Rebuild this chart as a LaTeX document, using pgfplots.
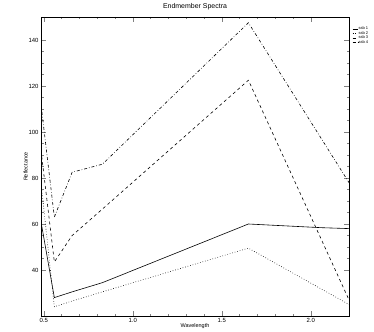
\documentclass[border=0pt]{standalone}
\usepackage{pgfplots}
\pgfplotsset{compat=1.18}
\usepackage{fontspec}
\setmainfont{Liberation Sans}
\begin{document}
\begin{tikzpicture}
\path[use as bounding box] (-41bp,-16bp) rectangle (333bp,316bp);
\begin{axis}[
  scale only axis, width=308bp, height=299bp,
  at={(0,0)}, anchor=south west,
  xmin=0.485, xmax=2.215, ymin=20, ymax=150,
  xtick={0.5,1.0,1.5,2.0}, xticklabels={0.5,1.0,1.5,2.0},
  ytick={40,60,80,100,120,140},
  minor x tick num=4, minor y tick num=3,
  tick align=inside, major tick length=5bp, minor tick length=2.5bp,
  xtick pos=both, ytick pos=both,
  /pgf/number format/assume math mode=true,
  tick label style={font=\fontsize{6}{6.5}\selectfont},
  xticklabel style={yshift=1pt},
  yticklabel style={xshift=1pt},
  axis line style={line width=0.8pt},
  title={Endmember Spectra},
  title style={font=\fontsize{7}{8}\selectfont, at={(0.5,1)}, anchor=south, yshift=-2pt},
  xlabel={Wavelength}, ylabel={Reflectance},
  xlabel style={font=\fontsize{5.5}{6}\selectfont, yshift=6pt},
  ylabel style={font=\fontsize{5.5}{6}\selectfont, yshift=-6pt},
  legend style={at={(1.01,0.97)}, anchor=north west, draw=none, fill=none,
    font=\fontsize{4}{4.5}\selectfont, inner sep=0pt, row sep=-1pt,
    nodes={inner sep=0.6pt}},
  legend cell align=left,
  legend image code/.code={\draw[#1] (0cm,0cm) -- (0.18cm,0cm);},
  every axis plot/.append style={line width=0.6pt, black},
  clip=true,
]
\addplot[solid] coordinates {(0.485,61) (0.56,28) (0.66,30.5) (0.83,34.5) (1.65,60) (2.06,58.4) (2.215,58)};
\addlegendentry{ssb 1}
\addplot[dotted] coordinates {(0.485,78) (0.56,24) (0.66,26.5) (0.83,30.5) (1.65,49.5) (2.215,25)};
\addlegendentry{ssb 2}
\addplot[dashed] coordinates {(0.485,92) (0.56,43.5) (0.66,55) (0.83,66.5) (1.65,122.5) (2.215,27)};
\addlegendentry{ssb 3}
\addplot[dash dot] coordinates {(0.485,112) (0.56,63) (0.66,82.5) (0.83,86) (1.65,147.5) (2.215,78)};
\addlegendentry{ssb 4}
\end{axis}
\end{tikzpicture}
\end{document}
